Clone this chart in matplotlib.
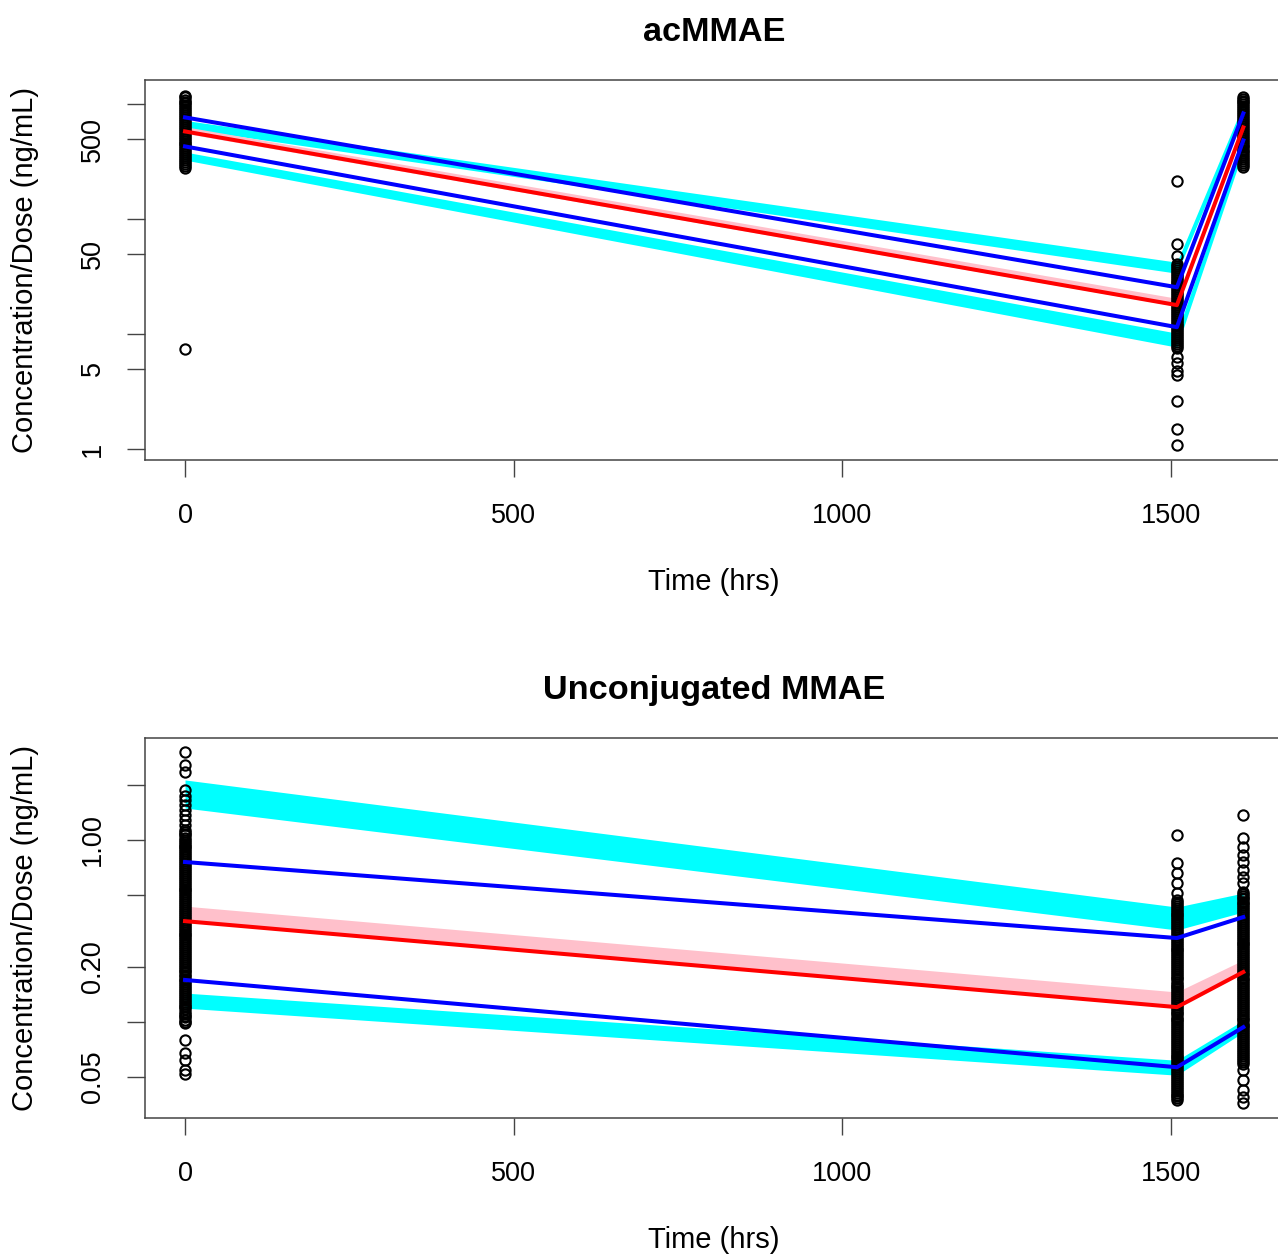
import numpy as np
import matplotlib
matplotlib.use("Agg")
import matplotlib.pyplot as plt

plt.rcParams['font.family'] = ['Liberation Sans', 'DejaVu Sans']

# ---------------- data ----------------
TIMES = [0, 1509, 1610]
X_TICKS = [0, 500, 1000, 1500]

# acMMAE observed (Concentration/Dose) at each nominal time
ac_obs_t0 = [7.4,
             280, 291, 303, 315, 328, 341, 354, 368, 383, 398, 414, 431, 448, 466, 485, 504,
             524, 545, 567, 590, 613, 638, 663, 690, 717, 746, 776, 807, 839, 873, 908, 944,
             982, 1020, 1060, 1100, 1150, 1190]
ac_obs_t1 = [1.08, 1.5, 2.6, 4.4, 4.8, 5.6, 6.3,
             7.6, 7.9, 8.2, 8.5, 8.9, 9.2, 9.6, 10.0, 10.4, 10.8, 11.2, 11.7, 12.1, 12.6,
             13.1, 13.6, 14.2, 14.8, 15.3, 16.0, 16.6, 17.3, 18.0, 18.7, 19.4, 20.2, 21.0,
             21.8, 22.7, 23.6, 24.6, 25.5, 26.6, 27.6, 28.7, 29.9, 31.1, 32.3, 33.6, 35.0,
             36.4, 37.8, 39.3, 40.9,
             48, 61, 214]
ac_obs_t2 = [285, 296, 308, 320, 333, 347, 360, 375, 390, 405, 422, 438, 456, 474, 493,
             513, 533, 555, 577, 600, 624, 649, 675, 702, 730, 759, 789, 821, 854, 888, 923,
             960, 999, 1040, 1080, 1120, 1150]

# acMMAE prediction bands (lower, upper) and observed percentiles
ac_cyan_hi_lo = [618, 33.9, 826]
ac_cyan_hi_up = [726, 42.3, 1009]
ac_cyan_lo_lo = [328, 7.7, 398]
ac_cyan_lo_up = [385, 10.2, 486]
ac_pink_lo = [560, 17.5, 600]
ac_pink_up = [640, 20.5, 690]
ac_p95 = [771, 25.6, 835]
ac_p50 = [582, 17.9, 631]
ac_p05 = [431, 11.5, 486]

# Unconjugated MMAE observed
un_obs_t0 = [0.052, 0.0542, 0.0615, 0.067, 0.079,
             0.098, 0.100, 0.103, 0.106, 0.108, 0.111, 0.114, 0.117, 0.120, 0.123, 0.126,
             0.129, 0.132, 0.135, 0.139, 0.142, 0.146, 0.149, 0.153, 0.157, 0.161, 0.165,
             0.169, 0.173, 0.178, 0.182, 0.187, 0.191, 0.196, 0.201, 0.206, 0.211, 0.217,
             0.222, 0.228, 0.233, 0.239, 0.245, 0.251, 0.258, 0.264, 0.271, 0.277, 0.284,
             0.292, 0.299, 0.306, 0.314, 0.322, 0.330, 0.338, 0.347, 0.355, 0.364, 0.373,
             0.383, 0.392, 0.402, 0.412, 0.423, 0.433, 0.444, 0.455, 0.467, 0.478, 0.490,
             0.503, 0.515, 0.528, 0.541, 0.555, 0.569, 0.583, 0.598, 0.613, 0.628, 0.644,
             0.660, 0.676, 0.693, 0.711, 0.728, 0.747, 0.765, 0.785, 0.804, 0.824, 0.845,
             0.866, 0.888, 0.910, 0.933, 0.956, 0.980, 1.00, 1.03, 1.06, 1.08, 1.11, 1.13,
             1.21, 1.29, 1.37, 1.46, 1.55, 1.66, 1.75, 1.88, 2.37, 2.59, 3.05]
un_obs_t1 = [0.0370, 0.0379, 0.0389, 0.0398, 0.0408, 0.0419, 0.0429, 0.0440, 0.0451,
             0.0462, 0.0474, 0.0485, 0.0498, 0.0510, 0.0523, 0.0536, 0.0549, 0.0563, 0.0577,
             0.0591, 0.0606, 0.0621, 0.0637, 0.0653, 0.0669, 0.0686, 0.0703, 0.0720, 0.0738,
             0.0757, 0.0776, 0.0795, 0.0815, 0.0835, 0.0856, 0.0878, 0.0900, 0.0922, 0.0945,
             0.0969, 0.0993, 0.102, 0.104, 0.107, 0.110, 0.112, 0.115, 0.118, 0.121, 0.124,
             0.127, 0.130, 0.133, 0.137, 0.140, 0.144, 0.147, 0.151, 0.155, 0.158, 0.162,
             0.166, 0.171, 0.175, 0.179, 0.184, 0.188, 0.193, 0.198, 0.203, 0.208, 0.213,
             0.218, 0.224, 0.229, 0.235, 0.241, 0.247, 0.253, 0.259, 0.266, 0.273, 0.279,
             0.286, 0.293, 0.301, 0.308, 0.316, 0.324, 0.332, 0.340, 0.349, 0.357, 0.366,
             0.375, 0.385, 0.394, 0.404, 0.414, 0.425, 0.435, 0.446, 0.457, 0.469,
             0.511, 0.580, 0.658, 0.747, 1.07]
un_obs_t2 = [0.0357, 0.0385, 0.0421, 0.0478, 0.0542,
             0.0590, 0.0605, 0.0620, 0.0635, 0.0651, 0.0668, 0.0684, 0.0701, 0.0719, 0.0737,
             0.0755, 0.0774, 0.0793, 0.0813, 0.0834, 0.0854, 0.0876, 0.0898, 0.0920, 0.0943,
             0.0967, 0.0991, 0.102, 0.104, 0.107, 0.109, 0.112, 0.115, 0.118, 0.121, 0.124,
             0.127, 0.130, 0.133, 0.137, 0.140, 0.144, 0.147, 0.151, 0.155, 0.159, 0.163,
             0.167, 0.171, 0.175, 0.180, 0.184, 0.189, 0.193, 0.198, 0.203, 0.208, 0.214,
             0.219, 0.224, 0.230, 0.236, 0.242, 0.248, 0.254, 0.260, 0.267, 0.273, 0.280,
             0.287, 0.294, 0.302, 0.309, 0.317, 0.325, 0.333, 0.341, 0.350, 0.359, 0.368,
             0.377, 0.386, 0.396, 0.406, 0.416, 0.426, 0.437, 0.448, 0.459, 0.471, 0.482,
             0.494, 0.507, 0.520,
             0.580, 0.626, 0.684, 0.757, 0.827, 0.915, 1.03, 1.37]

un_cyan_hi_lo = [1.50, 0.320, 0.402]
un_cyan_hi_up = [2.14, 0.428, 0.511]
un_cyan_lo_lo = [0.119, 0.0509, 0.0877]
un_cyan_lo_up = [0.144, 0.0615, 0.102]
un_pink_lo = [0.354, 0.1205, 0.185]
un_pink_up = [0.433, 0.146, 0.219]
un_p95 = [0.757, 0.289, 0.377]
un_p50 = [0.358, 0.1205, 0.188]
un_p05 = [0.170, 0.0563, 0.0935]

ac_yticks = [1, 5, 10, 50, 100, 500, 1000]
ac_ylabels = ['1', '5', '', '50', '', '500', '']
un_yticks = [0.05, 0.1, 0.2, 0.5, 1.0, 2.0]
un_ylabels = ['0.05', '', '0.20', '', '1.00', '']

TITLES = ['acMMAE', 'Unconjugated MMAE']
XLABEL = 'Time (hrs)'
YLABEL = 'Concentration/Dose (ng/mL)'

# ---------------- figure ----------------
W, H = 1278, 1254
fig = plt.figure(figsize=(W / 100, H / 100), dpi=100)


def fx(px):
    return px / W


def fy(py):
    return 1 - py / H


AX_L, AX_R = 145, 1283
SPINE = '#444444'


def draw_panel(top_px, bottom_px, obs, bands, pcts, ylim, yticks, ylabels, title):
    ax = fig.add_axes([fx(AX_L), fy(bottom_px), fx(AX_R - AX_L), (bottom_px - top_px) / H])
    ax.set_yscale('log')
    # bands
    for lo, up, col in bands:
        ax.fill_between(TIMES, lo, up, color=col, lw=0, zorder=1)
    # observations
    for t, vals in zip(TIMES, obs):
        ax.plot([t] * len(vals), vals, linestyle='none', marker='o', ms=7.4,
                mfc='none', mec='black', mew=1.5, zorder=2)
    # observed percentiles
    for vals, col in pcts:
        ax.plot(TIMES, vals, color=col, lw=2.9, zorder=3, solid_joinstyle='round')
    ax.set_xlim(-60.9, 1670.4)
    ax.set_ylim(*ylim)
    ax.set_xticks(X_TICKS)
    ax.set_xticklabels([str(v) for v in X_TICKS])
    ax.set_yticks(yticks)
    ax.set_yticklabels(ylabels)
    ax.yaxis.set_minor_locator(matplotlib.ticker.NullLocator())
    for s in ax.spines.values():
        s.set_color(SPINE)
        s.set_linewidth(1.1)
    ax.tick_params(axis='x', length=12.5, width=1.0, color=SPINE, labelsize=19.5, pad=33)
    ax.tick_params(axis='y', length=13, width=1.0, color=SPINE, labelsize=19.5, pad=19.5)
    for lbl in ax.get_xticklabels():
        lbl.set_va('baseline')
    for lbl in ax.get_yticklabels():
        lbl.set_rotation(90)
        lbl.set_rotation_mode('anchor')
        lbl.set_ha('center')
        lbl.set_va('baseline')
    # texts
    fig.text(fx(714), fy(top_px - 39), title, ha='center', va='baseline',
             fontsize=24.7, fontweight='bold')
    fig.text(fx(714), fy(bottom_px + 130), XLABEL, ha='center', va='baseline', fontsize=21)
    fig.text(fx(33), fy((top_px + bottom_px) / 2), YLABEL, rotation=90,
             rotation_mode='anchor', ha='center', va='baseline', fontsize=21)
    return ax


draw_panel(80, 460,
           [ac_obs_t0, ac_obs_t1, ac_obs_t2],
           [(ac_cyan_hi_lo, ac_cyan_hi_up, 'cyan'), (ac_cyan_lo_lo, ac_cyan_lo_up, 'cyan'),
            (ac_pink_lo, ac_pink_up, 'pink')],
           [(ac_p95, 'blue'), (ac_p05, 'blue'), (ac_p50, 'red')],
           (0.802, 1632), ac_yticks, ac_ylabels, TITLES[0])

draw_panel(738, 1118,
           [un_obs_t0, un_obs_t1, un_obs_t2],
           [(un_cyan_hi_lo, un_cyan_hi_up, 'cyan'), (un_cyan_lo_lo, un_cyan_lo_up, 'cyan'),
            (un_pink_lo, un_pink_up, 'pink')],
           [(un_p95, 'blue'), (un_p05, 'blue'), (un_p50, 'red')],
           (0.0296, 3.64), un_yticks, un_ylabels, TITLES[1])

fig.savefig('out.png', dpi=100)
